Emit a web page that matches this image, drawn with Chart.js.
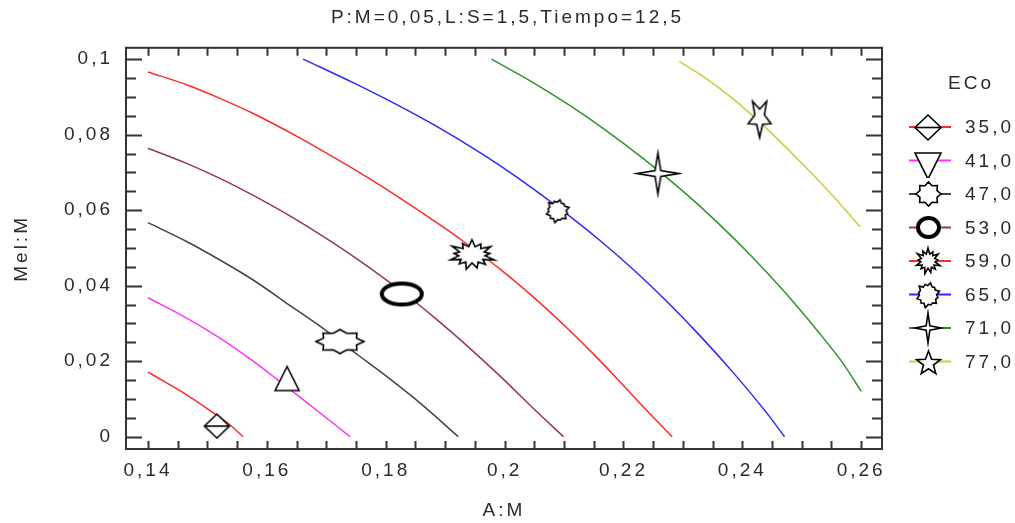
<!DOCTYPE html>
<html>
<head>
<meta charset="utf-8">
<title>ECo contour</title>
<script src="https://cdn.jsdelivr.net/npm/chart.js@4.4.1/dist/chart.umd.min.js"></script>
<style>
  html, body { margin: 0; padding: 0; background: #fff; }
  canvas { display: block; }
</style>
</head>
<body>
<canvas id="contourChart" width="1015" height="523"></canvas>
<script>
const TITLE = 'P:M=0,05,L:S=1,5,Tiempo=12,5';
const LEVEL_LABELS = ['35,0', '41,0', '47,0', '53,0', '59,0', '65,0', '71,0', '77,0'];
const LINE_COLORS = ['#ff2a2a', '#ff33ff', '#444444', '#9c3060', '#ff2a2a', '#2a2aff', '#2a962a', '#cccc40'];

// contour lines: A:M (x) and Mel:M (y)
const x35 = [0.1400, 0.1432, 0.1465, 0.1499, 0.1538, 0.1560];
const y35 = [0.0171, 0.0142, 0.0111, 0.0075, 0.0031, 0.0000];
const x41 = [0.1400, 0.1465, 0.1521, 0.1577, 0.1617, 0.1667, 0.1740];
const y41 = [0.0368, 0.0314, 0.0261, 0.0200, 0.0152, 0.0091, 0.0000];
const x47 = [0.1400, 0.1465, 0.1521, 0.1577, 0.1633, 0.1690, 0.1746, 0.1802, 0.1858, 0.1922];
const y47 = [0.0567, 0.0517, 0.0468, 0.0415, 0.0354, 0.0292, 0.0225, 0.0159, 0.0089, 0.0000];
const x53 = [0.1400, 0.1465, 0.1521, 0.1577, 0.1633, 0.1690, 0.1746, 0.1802, 0.1852, 0.1880, 0.1936, 0.1992, 0.2049, 0.2099];
const y53 = [0.0764, 0.0724, 0.0684, 0.0639, 0.0590, 0.0535, 0.0477, 0.0414, 0.0354, 0.0318, 0.0242, 0.0161, 0.0074, 0.0000];
const x59 = [0.1400, 0.1465, 0.1521, 0.1577, 0.1656, 0.1718, 0.1774, 0.1824, 0.1880, 0.1931, 0.1993, 0.2049, 0.2105, 0.2150, 0.2189, 0.2228, 0.2282];
const y59 = [0.0966, 0.0932, 0.0896, 0.0856, 0.0791, 0.0735, 0.0682, 0.0632, 0.0573, 0.0517, 0.0443, 0.0369, 0.0288, 0.0218, 0.0154, 0.0088, 0.0000];
const x65 = [0.1661, 0.1746, 0.1824, 0.1880, 0.1964, 0.2021, 0.2088, 0.2161, 0.2217, 0.2273, 0.2329, 0.2385, 0.2441, 0.2471];
const y65 = [0.1000, 0.0937, 0.0875, 0.0827, 0.0747, 0.0687, 0.0610, 0.0519, 0.0442, 0.0358, 0.0267, 0.0169, 0.0063, 0.0000];
const x71 = [0.1978, 0.2048, 0.2105, 0.2161, 0.2234, 0.2301, 0.2357, 0.2413, 0.2469, 0.2525, 0.2570, 0.2600];
const y71 = [0.1000, 0.0938, 0.0882, 0.0822, 0.0736, 0.0649, 0.0569, 0.0482, 0.0387, 0.0283, 0.0193, 0.0120];
const x77 = [0.2294, 0.2340, 0.2385, 0.2441, 0.2497, 0.2553, 0.2598];
const y77 = [0.0994, 0.0948, 0.0894, 0.0816, 0.0729, 0.0637, 0.0556];

// label marker on each line
const MARKER_X = [0.1516, 0.1634, 0.1723, 0.1827, 0.1945, 0.2089, 0.2258, 0.2429];
const MARKER_Y = [0.0028, 0.0154, 0.0252, 0.0378, 0.0482, 0.0598, 0.0697, 0.0840];

const X_TICKS = [0.14, 0.16, 0.18, 0.20, 0.22, 0.24, 0.26];
const X_TICK_LABELS = ['0,14', '0,16', '0,18', '0,2', '0,22', '0,24', '0,26'];
const Y_TICKS = [0, 0.02, 0.04, 0.06, 0.08, 0.10];
const Y_TICK_LABELS = ['0', '0,02', '0,04', '0,06', '0,08', '0,1'];

const LINES_X = [x35, x41, x47, x53, x59, x65, x71, x77];
const LINES_Y = [y35, y41, y47, y53, y59, y65, y71, y77];

const TEXT_COLOR = '#2a2a2a';
const FONT = '"Liberation Sans", Arial, sans-serif';

function starPts(n, inner, rot, jag) {
    const pts = [];
    for (let i = 0; i < 2 * n; i++) {
        const a = rot + i * Math.PI / n;
        let r = i % 2 ? inner : 1;
        if (jag) r *= jag[i % jag.length];
        pts.push([Math.cos(a) * r, Math.sin(a) * r]);
    }
    return pts;
}

function makeMarker(shape, w, h) {
    const pad = 4;
    const c = document.createElement('canvas');
    c.width = Math.ceil(w + pad * 2);
    c.height = Math.ceil(h + pad * 2);
    const g = c.getContext('2d');
    g.translate(c.width / 2, c.height / 2);
    g.lineWidth = 1.6;
    g.strokeStyle = '#000';
    g.fillStyle = '#fff';
    const rx = w / 2, ry = h / 2;
    const poly = (pts, dy = 0) => {
        g.beginPath();
        pts.forEach(([px, py], i) => {
            if (i) g.lineTo(px * rx, py * ry + dy);
            else g.moveTo(px * rx, py * ry + dy);
        });
        g.closePath();
        g.fill();
        g.stroke();
    };
    switch (shape) {
        case 'diamond':
            poly([[0, -1], [1, 0], [0, 1], [-1, 0]]);
            g.beginPath(); g.moveTo(-rx, 0); g.lineTo(rx, 0); g.stroke();
            break;
        case 'triUp':
            poly([[0, -1], [1, 1], [-1, 1]]);
            break;
        case 'triDown':
            poly([[-1, -1], [1, -1], [0, 1]], 5);
            break;
        case 'star8':
            poly(starPts(8, 0.74, 0));
            break;
        case 'ring':
            g.lineWidth = 4;
            g.beginPath();
            g.ellipse(0, 0, rx - 2, ry - 2, 0, 0, Math.PI * 2);
            g.fill();
            g.stroke();
            break;
        case 'burst':
            poly(starPts(13, 0.55, -Math.PI / 2, [1, 1, 0.8, 1, 0.95, 1, 0.75, 1, 1, 1, 0.85, 1, 0.9, 1]));
            break;
        case 'burstSmall':
            poly(starPts(12, 0.72, -0.3, [1, 1, 0.85, 1, 0.95, 1, 0.8, 1]));
            break;
        case 'star4':
            poly(starPts(4, 0.2, -Math.PI / 2));
            break;
        case 'star5up':
            poly(starPts(5, 0.42, -Math.PI / 2), 2);
            break;
        case 'star5down':
            poly(starPts(5, 0.42, Math.PI / 2), -2);
            break;
    }
    return c;
}

const PLOT_MARKERS = [
    makeMarker('diamond', 25, 24),
    makeMarker('triUp', 24, 24),
    makeMarker('star8', 48, 24),
    makeMarker('ring', 44, 25),
    makeMarker('burst', 48, 30),
    makeMarker('burstSmall', 24, 24),
    makeMarker('star4', 41, 41),
    makeMarker('star5down', 24, 40),
];
const LEGEND_MARKERS = [
    makeMarker('diamond', 26, 25),
    makeMarker('triDown', 26, 26),
    makeMarker('star8', 25, 24),
    makeMarker('ring', 25, 23),
    makeMarker('burst', 26, 26),
    makeMarker('burstSmall', 24, 26),
    makeMarker('star4', 26, 30),
    makeMarker('star5up', 25, 25),
];

const spacing = {
    id: 'spacing',
    beforeUpdate(chart) { chart.ctx.letterSpacing = '3px'; },
    beforeDraw(chart) { chart.ctx.letterSpacing = '3px'; }
};

const frameTicks = {
    id: 'frameTicks',
    afterDatasetsDraw(chart) {
        const { ctx, chartArea: a, scales: { x, y } } = chart;
        ctx.save();
        ctx.strokeStyle = '#333';
        ctx.lineWidth = 2;
        ctx.strokeRect(a.left, a.top, a.right - a.left, a.bottom - a.top);
        ctx.beginPath();
        for (let i = 0; i <= 24; i++) {
            const px = Math.round(x.getPixelForValue(0.14 + i * 0.005)) + 0.5;
            ctx.moveTo(px, a.bottom); ctx.lineTo(px, a.bottom - 8);
            ctx.moveTo(px, a.top); ctx.lineTo(px, a.top + 8);
        }
        for (let i = 0; i <= 20; i++) {
            const py = Math.round(y.getPixelForValue(i * 0.005)) + 0.5;
            const len = i % 4 === 0 ? 16 : 10;
            ctx.moveTo(a.left, py); ctx.lineTo(a.left + len, py);
            ctx.moveTo(a.right, py); ctx.lineTo(a.right - len, py);
        }
        ctx.stroke();
        ctx.restore();
    }
};

const ecoLegend = {
    id: 'ecoLegend',
    afterDraw(chart) {
        const { ctx, chartArea: a } = chart;
        const lineX = a.right + 27;
        ctx.save();
        ctx.font = '19px ' + FONT;
        ctx.letterSpacing = '3px';
        ctx.fillStyle = TEXT_COLOR;
        ctx.textBaseline = 'middle';
        ctx.textAlign = 'center';
        ctx.fillText('ECo', lineX + 62, 84);
        ctx.textAlign = 'left';
        LEVEL_LABELS.forEach((label, i) => {
            const yy = 127 + i * 33.5;
            ctx.strokeStyle = LINE_COLORS[i];
            ctx.lineWidth = 2;
            ctx.beginPath();
            ctx.moveTo(lineX, yy);
            ctx.lineTo(lineX + 42, yy);
            ctx.stroke();
            const m = LEGEND_MARKERS[i];
            ctx.drawImage(m, Math.round(lineX + 19 - m.width / 2), Math.round(yy - m.height / 2));
            ctx.fillText(label, lineX + 56, yy + 1);
        });
        ctx.restore();
    }
};

const datasets = [];
LEVEL_LABELS.forEach((label, i) => {
    datasets.push({
        label: label,
        data: [{ x: MARKER_X[i], y: MARKER_Y[i] }],
        pointStyle: PLOT_MARKERS[i],
        pointRadius: 5,
        showLine: false,
        order: 0
    });
});
LEVEL_LABELS.forEach((label, i) => {
    datasets.push({
        label: label,
        data: LINES_X[i].map((v, k) => ({ x: v, y: LINES_Y[i][k] })),
        showLine: true,
        borderColor: LINE_COLORS[i],
        borderWidth: 1.5,
        pointRadius: 0,
        cubicInterpolationMode: 'monotone',
        order: 1
    });
});

Chart.defaults.font.family = FONT;
Chart.defaults.font.size = 19;
Chart.defaults.color = TEXT_COLOR;

new Chart(document.getElementById('contourChart'), {
    type: 'scatter',
    data: { datasets: datasets },
    options: {
        responsive: false,
        animation: false,
        devicePixelRatio: 1,
        layout: { padding: 0 },
        plugins: {
            legend: { display: false },
            tooltip: { enabled: false },
            title: {
                display: true,
                text: TITLE,
                color: TEXT_COLOR,
                font: { size: 19, weight: 'normal' },
                padding: { top: 6, bottom: 19 }
            }
        },
        scales: {
            x: {
                type: 'linear',
                min: 0.1363,
                max: 0.2635,
                afterBuildTicks: (s) => { s.ticks = X_TICKS.map(v => ({ value: v })); },
                afterFit: (s) => { s.height = 74; },
                grid: { display: false, drawTicks: false },
                border: { display: false },
                ticks: {
                    autoSkip: false,
                    maxRotation: 0,
                    padding: 10,
                    callback: (v, i) => X_TICK_LABELS[i]
                },
                title: { display: true, text: 'A:M', padding: { top: 4, bottom: 1 } }
            },
            y: {
                type: 'linear',
                min: -0.00326,
                max: 0.103,
                afterBuildTicks: (s) => { s.ticks = Y_TICKS.map(v => ({ value: v })); },
                afterFit: (s) => { s.width = 126; },
                grid: { display: false, drawTicks: false },
                border: { display: false },
                ticks: {
                    autoSkip: false,
                    padding: 13,
                    callback: (v, i) => Y_TICK_LABELS[i]
                },
                title: { display: true, text: 'Mel:M', padding: { top: 10, bottom: 4 } }
            },
            // empty right-hand column that holds the ECo legend
            legendSpace: {
                axis: 'y',
                position: 'right',
                afterFit: (s) => { s.width = 133; },
                grid: { display: false, drawTicks: false },
                border: { display: false },
                ticks: { display: false }
            }
        }
    },
    plugins: [spacing, frameTicks, ecoLegend]
});
</script>
</body>
</html>
